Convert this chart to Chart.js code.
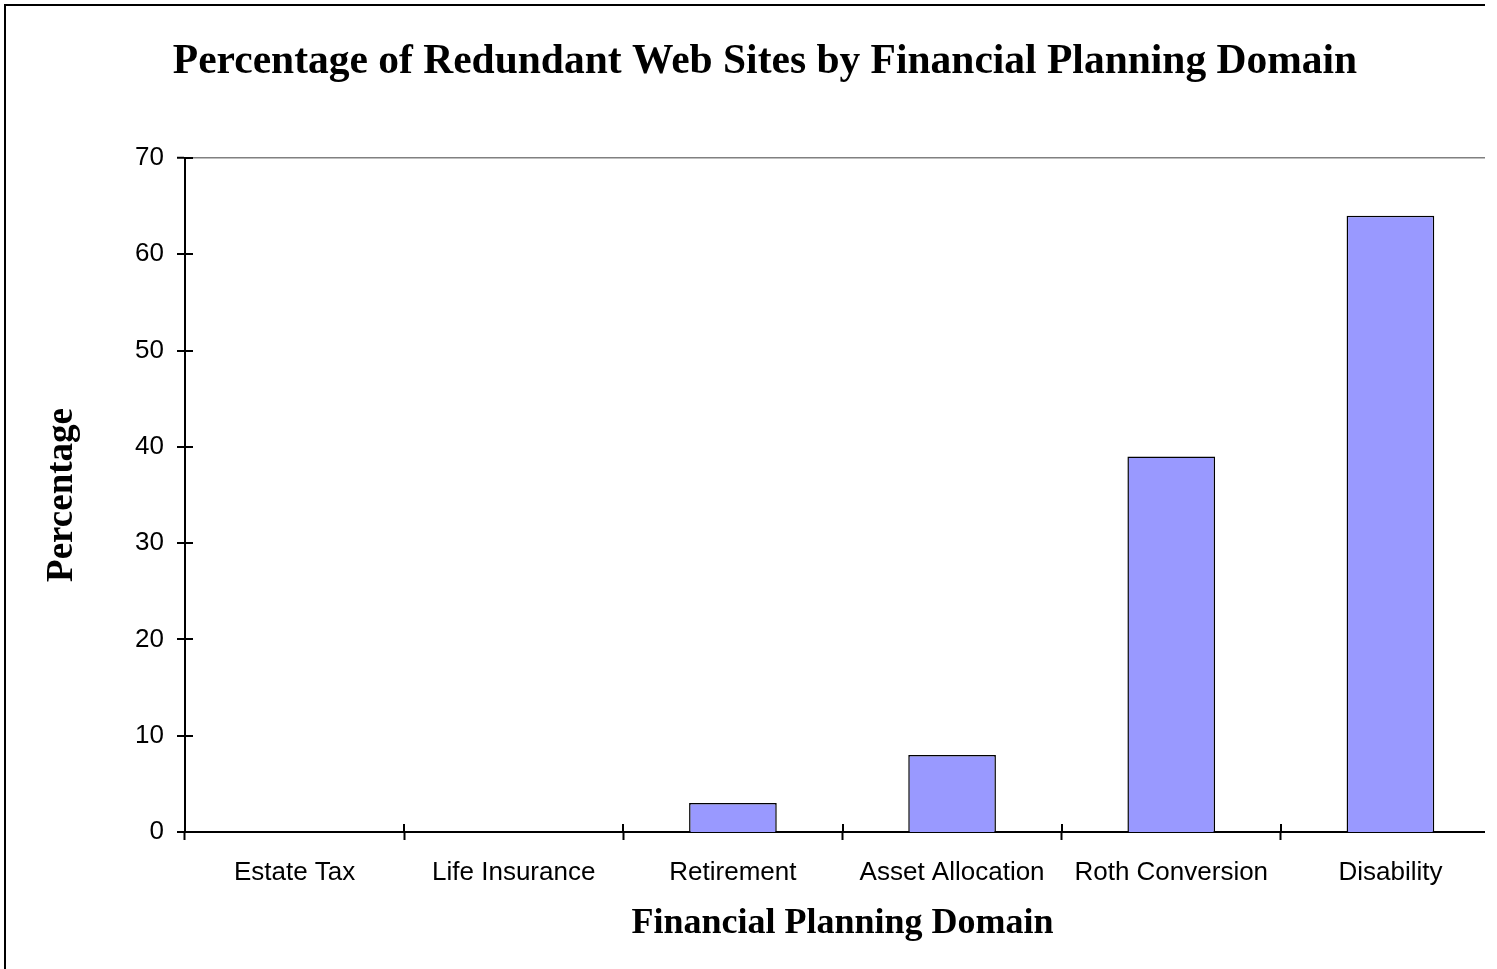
<!DOCTYPE html>
<html>
<head>
<meta charset="utf-8">
<script src="https://cdn.jsdelivr.net/npm/chart.js@4/dist/chart.umd.min.js"></script>
<style>
  html, body { margin: 0; padding: 0; background: #fff; overflow: hidden; }
  #wrap { position: absolute; left: 0; top: 0; width: 1485px; height: 969px; overflow: hidden; background: #fff; }
  #c { display: block; }
</style>
</head>
<body>
<div id="wrap"><canvas id="c" width="1530" height="969" style="width:1530px;height:969px"></canvas></div>
<script>
const chartTitle = 'Percentage of Redundant Web Sites by Financial Planning Domain';
const xAxisTitle = 'Financial Planning Domain';
const yAxisTitle = 'Percentage';
const categories = ['Estate Tax', 'Life Insurance', 'Retirement', 'Asset Allocation', 'Roth Conversion', 'Disability'];
const percentages = [0, 0, 3, 8, 39, 64];
const yTicks = [0, 10, 20, 30, 40, 50, 60, 70];

const serif = '"Liberation Serif", "Times New Roman", serif';
const sans = '"Liberation Sans", Arial, sans-serif';

const frameAndTicks = {
  id: 'frameAndTicks',
  afterDraw(chart) {
    const ctx = chart.ctx;
    const x = chart.scales.x, y = chart.scales.y;
    ctx.save();
    ctx.strokeStyle = '#000';
    // outer border (left & top visible)
    ctx.lineWidth = 2;
    ctx.beginPath();
    ctx.moveTo(5, 1200);
    ctx.lineTo(5, 5);
    ctx.lineTo(1525, 5);
    ctx.lineTo(1525, 1200);
    ctx.stroke();
    // inner halves of tick marks (ticks cross the axes)
    ctx.lineWidth = 2;
    ctx.beginPath();
    yTicks.forEach(v => {
      const py = Math.round(y.getPixelForValue(v));
      ctx.moveTo(x.left, py);
      ctx.lineTo(x.left + 8, py);
    });
    for (let i = 1; i < categories.length; i++) {
      const px = Math.round((x.getPixelForValue(i - 1) + x.getPixelForValue(i)) / 2);
      ctx.moveTo(px, y.bottom);
      ctx.lineTo(px, y.bottom - 8);
    }
    ctx.stroke();
    ctx.restore();
  }
};

new Chart(document.getElementById('c'), {
  type: 'bar',
  data: {
    labels: categories,
    datasets: [{
      data: percentages,
      backgroundColor: '#9999FF',
      borderColor: '#000000',
      borderWidth: 1.5,
      barPercentage: 0.4,
      categoryPercentage: 1.0
    }]
  },
  options: {
    responsive: false,
    animation: false,
    devicePixelRatio: 1,
    layout: { padding: 0 },
    plugins: {
      legend: { display: false },
      tooltip: { enabled: false },
      title: {
        display: true,
        text: chartTitle,
        color: '#000',
        font: { family: serif, size: 41.5, weight: 'bold', lineHeight: 1.2 },
        padding: { top: 37.5, bottom: 70.7 }
      }
    },
    scales: {
      x: {
        type: 'category',
        offset: true,
        grid: {
          offset: true,
          drawOnChartArea: false,
          drawTicks: true,
          tickLength: 8,
          tickColor: '#000',
          tickWidth: 2
        },
        border: { display: true, color: '#000', width: 2 },
        ticks: {
          color: '#000',
          font: { family: sans, size: 26, lineHeight: 1.2 },
          padding: 17.5,
          maxRotation: 0,
          autoSkip: false
        },
        title: {
          display: true,
          text: xAxisTitle,
          color: '#000',
          font: { family: serif, size: 36, weight: 'bold', lineHeight: 1.2 },
          padding: { top: 0, bottom: 23.5 }
        },
        afterFit(scale) { scale.height = 137; }
      },
      y: {
        type: 'linear',
        position: 'left',
        min: 0,
        max: 70,
        afterBuildTicks(scale) { scale.ticks = yTicks.map(v => ({ value: v })); },
        grid: {
          drawOnChartArea: true,
          drawTicks: true,
          tickLength: 8,
          tickColor: '#000',
          tickWidth: 2,
          color: (c) => (c.tick && c.tick.value === 70 ? '#808080' : 'rgba(0,0,0,0)'),
          lineWidth: (c) => (c.tick && c.tick.value === 70 ? 1.5 : 0)
        },
        border: { display: true, color: '#000', width: 2 },
        ticks: {
          color: '#000',
          font: { family: sans, size: 26, lineHeight: 1.2 },
          padding: 13
        },
        title: {
          display: true,
          text: yAxisTitle,
          color: '#000',
          font: { family: serif, size: 37, weight: 'bold', lineHeight: 1.2 },
          padding: { top: 39.8, bottom: 0 }
        },
        afterFit(scale) { scale.width = 185; }
      },
      spacer: {
        type: 'linear',
        position: 'right',
        display: true,
        grid: { display: false, drawTicks: false },
        border: { display: false },
        ticks: { display: false },
        afterFit(scale) { scale.width = 30; }
      }
    }
  },
  plugins: [frameAndTicks]
});
</script>
</body>
</html>
